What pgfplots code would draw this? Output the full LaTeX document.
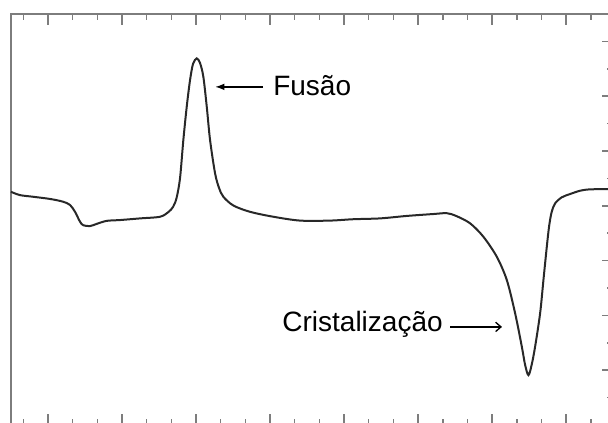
\documentclass[border=0pt]{standalone}
\usepackage{fontspec}
\setmainfont{Liberation Sans}
\usepackage{pgfplots}
\pgfplotsset{compat=1.18}
\usetikzlibrary{arrows.meta}

\definecolor{framegray}{RGB}{125,125,125}
\definecolor{curve}{RGB}{40,40,40}

\begin{document}
\begin{tikzpicture}
    \begin{axis}[
        scale only axis,
        width  = 451.5pt,
        height = 308.25pt,
        xmin = 15, xmax = 259,
        ymin = 0,  ymax = 15,
        axis line style = {framegray, line width=1.5pt},
        tick align = inside,
        xtick = {30,60,...,240},
        minor xtick = {20,40,50,70,80,100,110,130,140,160,170,190,200,220,230,250},
        ytick = {0,2,...,14},
        minor ytick = {1,3,...,15},
        xtick pos = both,
        ytick pos = right,
        xticklabel = \empty,
        yticklabel = \empty,
        major tick length = 8.25pt,
        minor tick length = 4.5pt,
        every tick/.style = {framegray, line width=1.1pt},
        clip = false,
    ]
        % DSC curve
        \addplot[curve, line width=1.5pt, smooth, tension=0.5, mark=none]
            coordinates {
                (15.00,8.51) (18.65,8.39) (23.92,8.33) (30.81,8.25) (36.08,8.15)
                (38.92,8.03) (40.95,7.78) (42.97,7.42) (44.31,7.29) (47.03,7.26)
                (49.74,7.34) (53.80,7.45) (59.19,7.48) (67.30,7.54) (75.41,7.60)
                (78.77,7.77) (80.68,7.96) (82.09,8.28) (83.51,9.01) (84.85,10.40)
                (86.23,11.62) (87.57,12.59) (88.78,13.18) (90.28,13.38) (91.62,13.21)
                (92.96,12.71) (94.34,11.62) (95.68,10.40) (97.70,9.19) (99.32,8.65)
                (101.07,8.33) (105.12,8.01) (111.89,7.78) (121.34,7.60) (132.16,7.46)
                (144.32,7.46) (153.77,7.51) (164.59,7.54) (175.42,7.63) (186.20,7.70)
                (191.64,7.73) (195.41,7.63) (201.08,7.36) (206.47,6.87) (211.90,6.14)
                (215.96,5.29) (219.32,4.08) (222.04,2.86) (223.38,2.19) (224.72,1.82)
                (226.01,2.19) (227.43,2.86) (229.46,4.08) (230.80,5.29) (232.17,6.51)
                (233.11,7.26) (234.12,7.77) (235.54,8.09) (238.25,8.31) (241.62,8.43)
                (245.68,8.55) (249.73,8.60) (259.00,8.61)
            };

        \node[anchor=base west, font=\fontsize{21}{25}\selectfont, inner sep=0pt]
            at (axis cs:121.2,12.01) {Fusão};
        \draw[-{Latex[length=7pt,width=5pt]}, line width=1.1pt, black]
            (axis cs:117.2,12.34) -- (axis cs:97.7,12.34);

        \node[anchor=base west, font=\fontsize{21}{25}\selectfont, inner sep=0pt]
            at (axis cs:124.9,3.40) {Cristalização};
        \draw[-{Straight Barb[length=4pt,width=7pt]}, line width=1pt, black]
            (axis cs:193.0,3.58) -- (axis cs:214.0,3.58);
    \end{axis}
    \pgfresetboundingbox
    \useasboundingbox ([xshift=-8.25pt,yshift=1.5pt]current axis.south west)
        rectangle ([xshift=-3.75pt,yshift=10.5pt]current axis.north east);
\end{tikzpicture}
\end{document}
